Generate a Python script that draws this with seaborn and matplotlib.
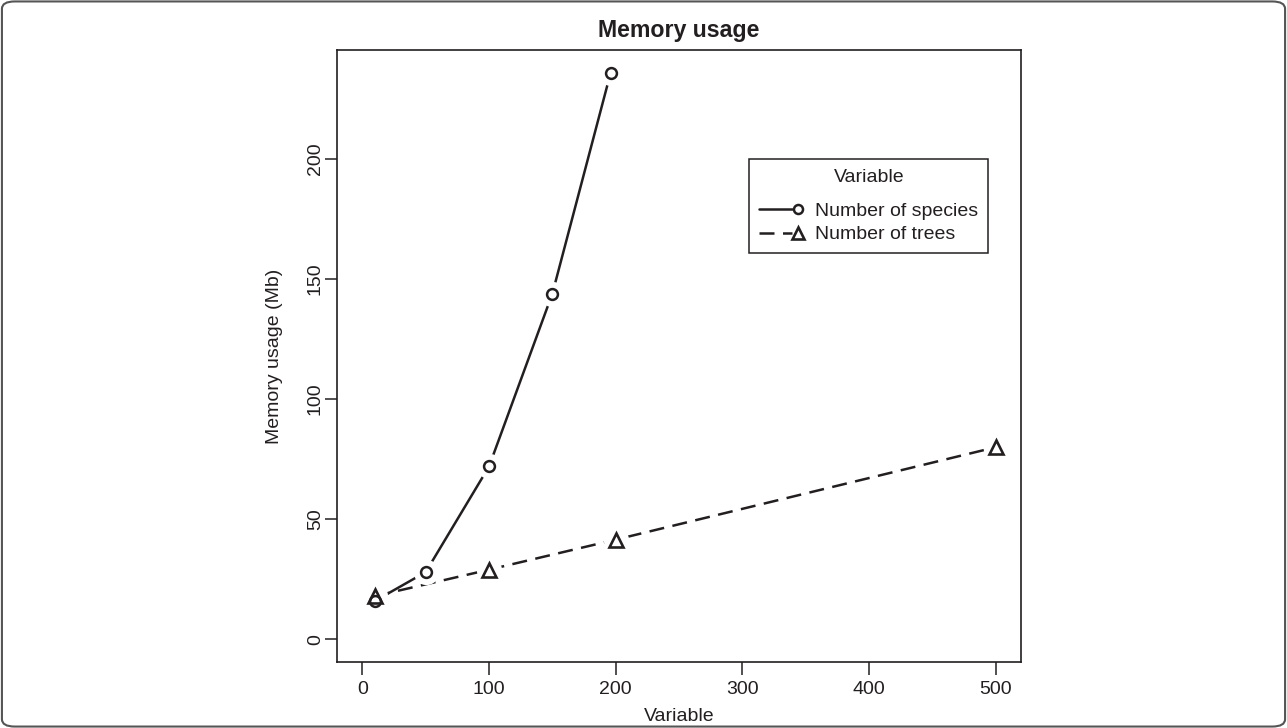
import numpy as np
import pandas as pd
import matplotlib
matplotlib.use("Agg")
import matplotlib.pyplot as plt
import seaborn as sns
from matplotlib.lines import Line2D
from matplotlib.patches import FancyBboxPatch
from matplotlib.legend_handler import HandlerBase

# data
species_x = [10, 50, 100, 150, 196]
species_mem = [16, 28, 72, 144, 236]
trees_x = [10, 100, 200, 500]
trees_mem = [18, 29, 41.5, 80]
series_names = ["Number of species", "Number of trees"]
x_ticks = [0, 100, 200, 300, 400, 500]
y_ticks = [0, 50, 100, 150, 200]

INK = "#231f20"
LW = 1.8
DASH = (6.0, 3.4)

sns.set_theme(style="ticks")
plt.rcParams["font.family"] = ["Liberation Sans", "DejaVu Sans"]
plt.rcParams["text.color"] = INK
plt.rcParams["axes.labelcolor"] = INK
plt.rcParams["xtick.color"] = INK
plt.rcParams["ytick.color"] = INK

df = pd.concat([
    pd.DataFrame({"x": species_x, "mem": species_mem, "var": series_names[0]}),
    pd.DataFrame({"x": trees_x, "mem": trees_mem, "var": series_names[1]}),
], ignore_index=True)


class EndMarkerHandler(HandlerBase):
    # R style legend key: line with the symbol at its right end
    def create_artists(self, legend, orig_handle, xdescent, ydescent,
                       width, height, fontsize, trans):
        y = (height - ydescent) / 2
        x0, x1 = -xdescent, -xdescent + width
        line = Line2D([x0, x1 - 4], [y, y])
        self.update_prop(line, orig_handle, legend)
        line.set_marker("None")
        mark = Line2D([x1], [y])
        self.update_prop(mark, orig_handle, legend)
        mark.set_linestyle("None")
        line.set_transform(trans)
        mark.set_transform(trans)
        return [line, mark]


fig = plt.figure(figsize=(12.87, 7.28), dpi=100)
ax = fig.add_axes([0.2619, 0.0907, 0.5315, 0.8407])

sns.lineplot(data=df, x="x", y="mem", style="var", hue="var",
             palette=[INK, INK], dashes={series_names[0]: "", series_names[1]: DASH},
             estimator=None, sort=False, linewidth=LW, legend=False, ax=ax)

# white halos open a gap in the lines around each point (R type="b")
halo = pd.DataFrame({"x": species_x + trees_x, "mem": species_mem + trees_mem})
sns.scatterplot(data=halo, x="x", y="mem", s=330, color="white", linewidth=0,
                legend=False, ax=ax, zorder=3)
ax.plot(species_x, species_mem, linestyle="none", marker="o", ms=7.8, mfc="none",
        mec=INK, mew=1.8, zorder=4)
ax.plot(trees_x, trees_mem, linestyle="none", marker="^", ms=9.5, mfc="none",
        mec=INK, mew=1.9, zorder=4)

ax.set_xlim(-20, 520)
ax.set_ylim(-9.44, 245.44)
ax.set_xticks(x_ticks)
ax.set_yticks(y_ticks)
ax.set_xticklabels([str(t) for t in x_ticks], fontsize=14)
ax.set_yticklabels([str(t) for t in y_ticks], fontsize=14, rotation=90, va="center")
ax.tick_params(axis="both", direction="out", length=9, width=1.1, color=INK)
ax.tick_params(axis="x", pad=5)
ax.tick_params(axis="y", pad=0.5)
for s in ax.spines.values():
    s.set_visible(True)
    s.set_color(INK)
    s.set_linewidth(1.2)

ax.set_xlabel("Variable", fontsize=14, labelpad=7)
ax.set_ylabel("Memory usage (Mb)", fontsize=14, labelpad=17)
ax.set_title("Memory usage", fontsize=16.7, fontweight="bold", pad=9)

handles = [
    Line2D([], [], color=INK, lw=LW, marker="o", ms=6.5, mfc="white", mec=INK, mew=1.8),
    Line2D([], [], color=INK, lw=LW, ls=(0, DASH), marker="^", ms=8, mfc="white", mec=INK, mew=1.9),
]
leg = ax.legend(handles, series_names, title="Variable", loc="upper right",
                bbox_to_anchor=(0.952, 0.822), fontsize=14, title_fontsize=14,
                frameon=True, fancybox=False, framealpha=1, edgecolor=INK,
                borderpad=0.5, labelspacing=0.3, handlelength=2.0, handletextpad=0.9,
                borderaxespad=0,
                handler_map={h: EndMarkerHandler() for h in handles})
leg.get_frame().set_linewidth(1.1)
leg._legend_box.sep = 12  # a bit more room under the legend title

# thin rounded frame around the whole picture
fig.patches.append(FancyBboxPatch((0.0015, 0.002), 0.997, 0.996,
                                  boxstyle="round,pad=0,rounding_size=0.01",
                                  transform=fig.transFigure, fill=False,
                                  edgecolor="#555555", linewidth=1.5))

fig.savefig("out.png", dpi=100)
